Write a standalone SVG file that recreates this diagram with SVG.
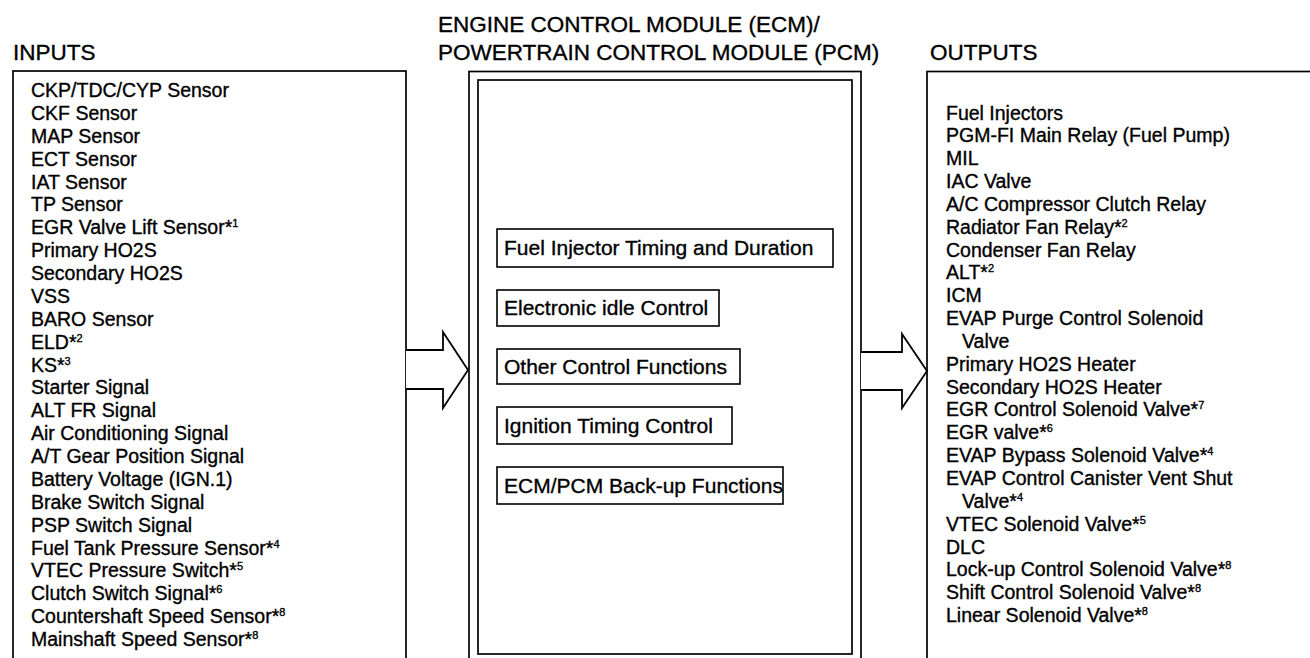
<svg xmlns="http://www.w3.org/2000/svg" width="1310" height="658" viewBox="0 0 1310 658">
<style>
.bx{fill:none;stroke:#000;stroke-width:1.7}
.fb{fill:#fff;stroke:#000;stroke-width:1.6}
.hd{font-family:"Liberation Sans",Arial,Helvetica,sans-serif;font-size:22.5px;fill:#000;stroke:#000;stroke-width:0.35}
.it{font-family:"Liberation Sans",Arial,Helvetica,sans-serif;font-size:19.5px;fill:#000;stroke:#000;stroke-width:0.35}
.ft{font-family:"Liberation Sans",Arial,Helvetica,sans-serif;font-size:21px;fill:#000;stroke:#000;stroke-width:0.35}
.sup{font-size:11px}
.ar{fill:#fff;stroke:#000;stroke-width:1.8;stroke-linejoin:miter}
</style>
<rect x="0" y="0" width="1310" height="658" fill="#fff"/>

<g id="inputs">
<text class="hd" x="13" y="60">INPUTS</text>
<rect class="bx" x="13" y="71" width="393" height="620"/>
<text class="it" x="31" y="97">CKP/TDC/CYP Sensor</text>
<text class="it" x="31" y="119.9">CKF Sensor</text>
<text class="it" x="31" y="142.75">MAP Sensor</text>
<text class="it" x="31" y="165.6">ECT Sensor</text>
<text class="it" x="31" y="188.5">IAT Sensor</text>
<text class="it" x="31" y="211.4">TP Sensor</text>
<text class="it" x="31" y="234.25">EGR Valve Lift Sensor*<tspan class="sup" dy="-7">1</tspan></text>
<text class="it" x="31" y="257.1">Primary HO2S</text>
<text class="it" x="31" y="280">Secondary HO2S</text>
<text class="it" x="31" y="302.9">VSS</text>
<text class="it" x="31" y="325.75">BARO Sensor</text>
<text class="it" x="31" y="348.6">ELD*<tspan class="sup" dy="-7">2</tspan></text>
<text class="it" x="31" y="371.5">KS*<tspan class="sup" dy="-7">3</tspan></text>
<text class="it" x="31" y="394.4">Starter Signal</text>
<text class="it" x="31" y="417.25">ALT FR Signal</text>
<text class="it" x="31" y="440.1">Air Conditioning Signal</text>
<text class="it" x="31" y="463">A/T Gear Position Signal</text>
<text class="it" x="31" y="485.9">Battery Voltage (IGN.1)</text>
<text class="it" x="31" y="508.75">Brake Switch Signal</text>
<text class="it" x="31" y="531.6">PSP Switch Signal</text>
<text class="it" x="31" y="554.5">Fuel Tank Pressure Sensor*<tspan class="sup" dy="-7">4</tspan></text>
<text class="it" x="31" y="577.4">VTEC Pressure Switch*<tspan class="sup" dy="-7">5</tspan></text>
<text class="it" x="31" y="600.25">Clutch Switch Signal*<tspan class="sup" dy="-7">6</tspan></text>
<text class="it" x="31" y="623.1">Countershaft Speed Sensor*<tspan class="sup" dy="-7">8</tspan></text>
<text class="it" x="31" y="646">Mainshaft Speed Sensor*<tspan class="sup" dy="-7">8</tspan></text>
</g>

<g id="ecm">
<text class="hd" x="438" y="32">ENGINE CONTROL MODULE (ECM)/</text>
<text class="hd" x="438" y="60">POWERTRAIN CONTROL MODULE (PCM)</text>
<rect class="bx" x="469" y="71.5" width="392" height="620"/>
<rect class="bx" x="478" y="80" width="374" height="574"/>
</g>

<g id="fn-fuel">
<rect class="fb" x="497" y="229" width="336" height="38"/>
<text class="ft" x="504" y="255">Fuel Injector Timing and Duration</text>
</g>
<g id="fn-idle">
<rect class="fb" x="497" y="290" width="222" height="36"/>
<text class="ft" x="504" y="315">Electronic idle Control</text>
</g>
<g id="fn-other">
<rect class="fb" x="497" y="349" width="243" height="35"/>
<text class="ft" x="504" y="374">Other Control Functions</text>
</g>
<g id="fn-ign">
<rect class="fb" x="497" y="407" width="235" height="37"/>
<text class="ft" x="504" y="433">Ignition Timing Control</text>
</g>
<g id="fn-backup">
<rect class="fb" x="497" y="467" width="286" height="37"/>
<text class="ft" x="504" y="493">ECM/PCM Back-up Functions</text>
</g>

<g id="outputs">
<text class="hd" x="930" y="60">OUTPUTS</text>
<rect class="bx" x="927" y="71.5" width="420" height="620"/>
<text class="it" x="946" y="119.5">Fuel Injectors</text>
<text class="it" x="946" y="142.3">PGM-FI Main Relay (Fuel Pump)</text>
<text class="it" x="946" y="165.2">MIL</text>
<text class="it" x="946" y="188">IAC Valve</text>
<text class="it" x="946" y="210.9">A/C Compressor Clutch Relay</text>
<text class="it" x="946" y="233.7">Radiator Fan Relay*<tspan class="sup" dy="-7">2</tspan></text>
<text class="it" x="946" y="256.5">Condenser Fan Relay</text>
<text class="it" x="946" y="279.4">ALT*<tspan class="sup" dy="-7">2</tspan></text>
<text class="it" x="946" y="302.2">ICM</text>
<text class="it" x="946" y="325.1">EVAP Purge Control Solenoid</text>
<text class="it" x="962" y="347.9">Valve</text>
<text class="it" x="946" y="370.7">Primary HO2S Heater</text>
<text class="it" x="946" y="393.6">Secondary HO2S Heater</text>
<text class="it" x="946" y="416.4">EGR Control Solenoid Valve*<tspan class="sup" dy="-7">7</tspan></text>
<text class="it" x="946" y="439.3">EGR valve*<tspan class="sup" dy="-7">6</tspan></text>
<text class="it" x="946" y="462.1">EVAP Bypass Solenoid Valve*<tspan class="sup" dy="-7">4</tspan></text>
<text class="it" x="946" y="484.9">EVAP Control Canister Vent Shut</text>
<text class="it" x="962" y="507.8">Valve*<tspan class="sup" dy="-7">4</tspan></text>
<text class="it" x="946" y="530.6">VTEC Solenoid Valve*<tspan class="sup" dy="-7">5</tspan></text>
<text class="it" x="946" y="553.5">DLC</text>
<text class="it" x="946" y="576.3">Lock-up Control Solenoid Valve*<tspan class="sup" dy="-7">8</tspan></text>
<text class="it" x="946" y="599.1">Shift Control Solenoid Valve*<tspan class="sup" dy="-7">8</tspan></text>
<text class="it" x="946" y="622">Linear Solenoid Valve*<tspan class="sup" dy="-7">8</tspan></text>
</g>

<g id="connectors">
<path class="ar" d="M406,350 H443 V332 L468,370 L443,408 V389 H406"/>
<path class="ar" d="M861,352 H902 V334 L927,371 L902,408 V390 H861"/>
</g>
</svg>
